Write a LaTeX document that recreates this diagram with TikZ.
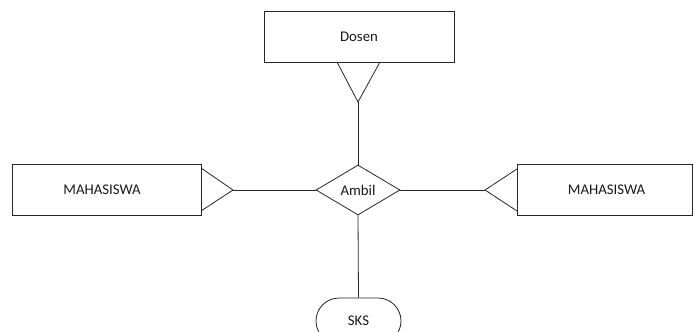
\documentclass[tikz,border=0pt]{standalone}
\usepackage{fontspec}
\setmainfont{Carlito}
\usetikzlibrary{shapes.geometric,shapes.misc}
\begin{document}
\begin{tikzpicture}[x=1pt,y=-1pt,
  line width=0.8pt, draw=black!85,
  every node/.style={font=\fontsize{14.8}{17}\selectfont, text=black!90},
  entity/.style={draw, rectangle, inner sep=0pt},
  rel/.style={draw, diamond, inner sep=0pt, minimum width=84pt, minimum height=50pt},
  attr/.style={draw, rounded rectangle, inner sep=0pt, minimum width=85pt, minimum height=46pt},
  conn/.style={draw=black!85, line width=0.8pt}]
\useasboundingbox (0,0) rectangle (694,332);
\node[entity, minimum width=190pt, minimum height=51pt] (dosen) at (359,36.5) {Dosen};
\node[entity, minimum width=189pt, minimum height=51pt] (mhsL) at (106.5,189.5) {};
\node (mhsLt) at (102,189.5) {MAHASISWA};
\node[entity, minimum width=175pt, minimum height=51pt] (mhsR) at (604.5,189.5) {};
\node (mhsRt) at (606.5,189.5) {MAHASISWA};
\node[rel] (ambil) at (358,190) {Ambil};
\node[attr] (sks) at (358.5,321) {SKS};
% crow's foot apexes
\coordinate (dA) at (358,102);
\coordinate (lA) at (233,190);
\coordinate (rA) at (485,190);
\coordinate (d1) at (337,62);
\coordinate (d2) at (380,62);
\coordinate (l1) at (201,168);
\coordinate (l2) at (201,211);
\coordinate (r1) at (517,169);
\coordinate (r2) at (517,211);
\draw[conn] (d1) -- (dA) -- (d2);
\draw[conn] (dA) -- (ambil.north);
\draw[conn] (l1) -- (lA) -- (l2);
\draw[conn] (lA) -- (ambil.west);
\draw[conn] (r1) -- (rA) -- (r2);
\draw[conn] (rA) -- (ambil.east);
\draw[conn] (ambil.south) -- (sks.north);
\end{tikzpicture}
\end{document}
